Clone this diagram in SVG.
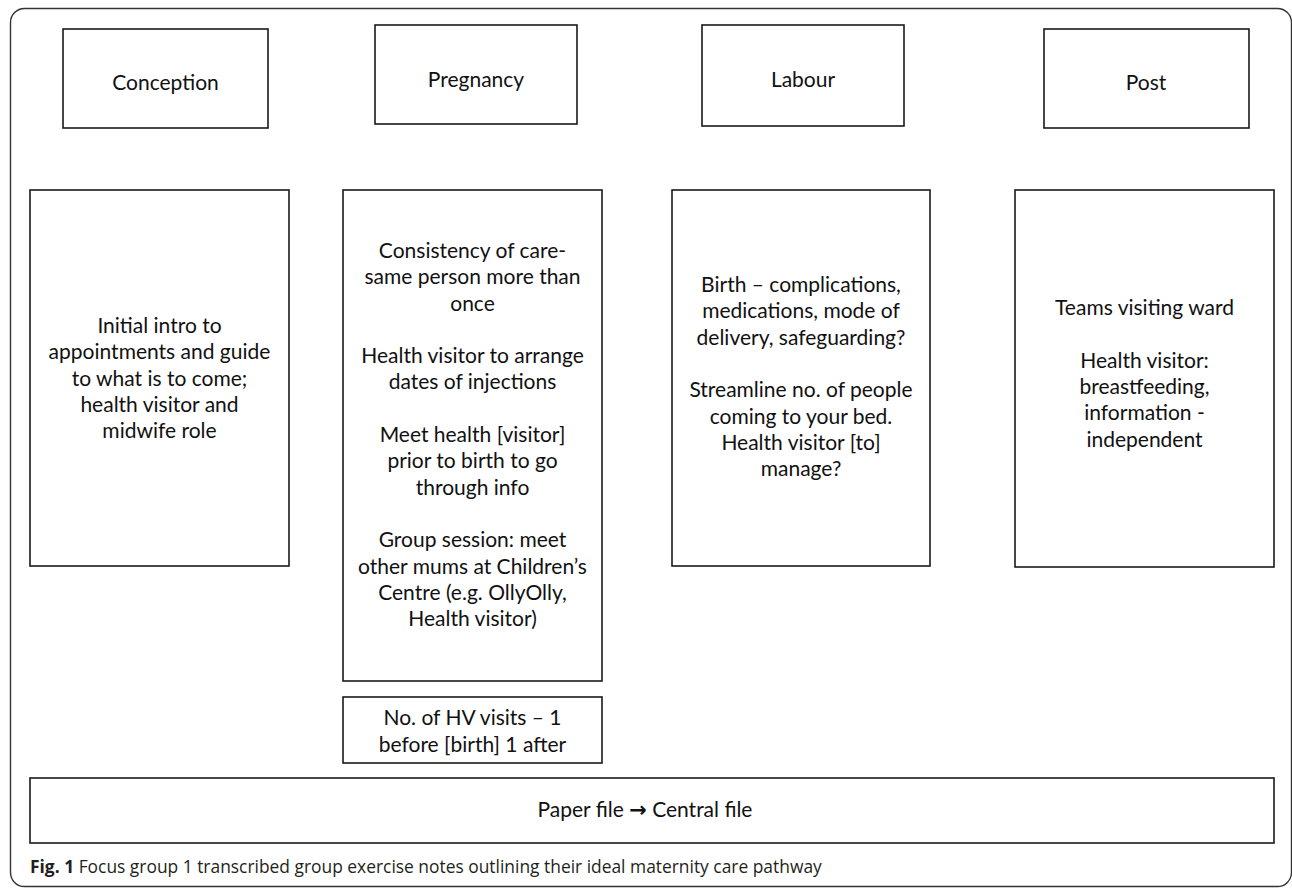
<svg xmlns="http://www.w3.org/2000/svg" width="1292" height="890" viewBox="0 0 1292 890">
<style>
.box{fill:#fff;stroke:#1a1a1a;stroke-width:1.6}
.frame{fill:#fff;stroke:#333;stroke-width:1.4}
.t{font-family:Lato,"Liberation Sans",sans-serif;font-size:21px;fill:#111;text-anchor:middle}
.cap{font-family:"Open Sans","Liberation Sans",sans-serif;font-size:17.4px;fill:#231f20}
.capb{font-weight:bold}
</style>
<rect class="frame" x="10.5" y="8.5" width="1281" height="878" rx="14"/>
<g id="conception-head"><rect class="box" x="63" y="29" width="205" height="99"/><text class="t" x="165.5" y="90">Conception</text></g>
<g id="pregnancy-head"><rect class="box" x="375" y="25" width="202" height="99"/><text class="t" x="476" y="87">Pregnancy</text></g>
<g id="labour-head"><rect class="box" x="702" y="25" width="202" height="101"/><text class="t" x="803" y="87">Labour</text></g>
<g id="post-head"><rect class="box" x="1044" y="29" width="205" height="99"/><text class="t" x="1146" y="90">Post</text></g>
<g id="conception-body"><rect class="box" x="30" y="190" width="259" height="376"/>
<text class="t"><tspan x="159.5" y="333">Initial intro to</tspan><tspan x="159.5" y="359.3">appointments and guide</tspan><tspan x="159.5" y="385.6">to what is to come;</tspan><tspan x="159.5" y="411.9">health visitor and</tspan><tspan x="159.5" y="438.2">midwife role</tspan></text></g>
<g id="pregnancy-body"><rect class="box" x="343" y="190" width="259" height="491"/>
<text class="t"><tspan x="472.5" y="257.9">Consistency of care-</tspan><tspan x="472.5" y="284.2">same person more than</tspan><tspan x="472.5" y="310.5">once</tspan><tspan x="472.5" y="363.1">Health visitor to arrange</tspan><tspan x="472.5" y="389.4">dates of injections</tspan><tspan x="472.5" y="442">Meet health [visitor]</tspan><tspan x="472.5" y="468.3">prior to birth to go</tspan><tspan x="472.5" y="494.6">through info</tspan><tspan x="472.5" y="547.2">Group session: meet</tspan><tspan x="472.5" y="573.5">other mums at Children’s</tspan><tspan x="472.5" y="599.8">Centre (e.g. OllyOlly,</tspan><tspan x="472.5" y="626.1">Health visitor)</tspan></text></g>
<g id="hv-visits"><rect class="box" x="343" y="697" width="259" height="66"/>
<text class="t"><tspan x="472.5" y="725">No. of HV visits – 1</tspan><tspan x="472.5" y="751.5">before [birth] 1 after</tspan></text></g>
<g id="labour-body"><rect class="box" x="672" y="190" width="258" height="376"/>
<text class="t"><tspan x="801" y="292">Birth – complications,</tspan><tspan x="801" y="318.3">medications, mode of</tspan><tspan x="801" y="344.6">delivery, safeguarding?</tspan><tspan x="801" y="397.2">Streamline no. of people</tspan><tspan x="801" y="423.5">coming to your bed.</tspan><tspan x="801" y="449.8">Health visitor [to]</tspan><tspan x="801" y="476.1">manage?</tspan></text></g>
<g id="post-body"><rect class="box" x="1015" y="190" width="259" height="377"/>
<text class="t"><tspan x="1144.5" y="315">Teams visiting ward</tspan><tspan x="1144.5" y="367.6">Health visitor:</tspan><tspan x="1144.5" y="393.9">breastfeeding,</tspan><tspan x="1144.5" y="420.2">information -</tspan><tspan x="1144.5" y="446.5">independent</tspan></text></g>
<g id="paper-file"><rect class="box" x="30" y="778" width="1244" height="65"/>
<text class="t" x="645" y="817">Paper file <tspan font-family="DejaVu Sans" font-weight="bold" font-size="21">→</tspan> Central file</text></g>
<g id="connectors"></g>
<text class="cap" x="30" y="873"><tspan class="capb">Fig. 1</tspan> Focus group 1 transcribed group exercise notes outlining their ideal maternity care pathway</text>
</svg>
